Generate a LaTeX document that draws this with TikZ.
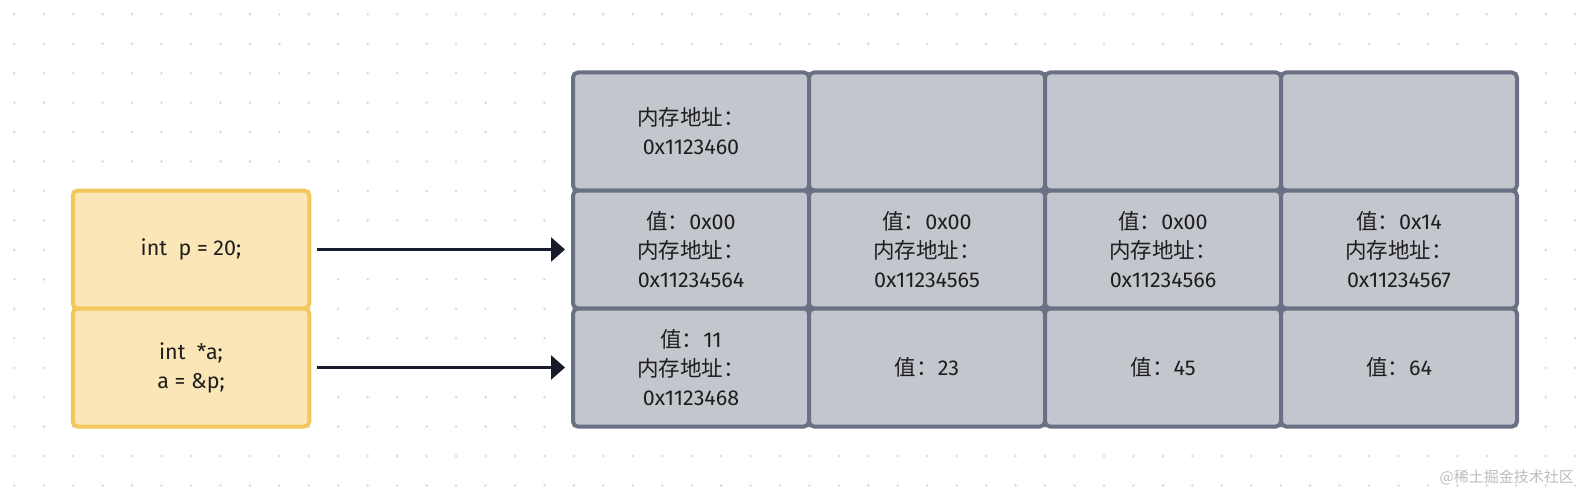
\documentclass[tikz,border=0pt]{standalone}
\usepackage{fontspec}
\setmainfont{Fira Sans}
\newfontfamily\cjk{Noto Sans CJK SC}
\usetikzlibrary{arrows.meta,shadows}
\definecolor{yfill}{HTML}{FAE6B7}
\definecolor{yb}{HTML}{F2C75C}
\definecolor{cellf}{HTML}{C4C6CE}
\definecolor{cellb}{HTML}{6B7184}
\definecolor{arrc}{HTML}{171B2C}
\definecolor{txt}{HTML}{1E1E1E}
\definecolor{dotc}{HTML}{DADADA}
\definecolor{wmc}{HTML}{BDBDBD}
\newcommand\zh[1]{{\cjk #1}}
\tikzset{
  cell/.style={draw=cellb, fill=cellf, line width=4pt, rounded corners=5pt,
    minimum width=236pt, minimum height=118pt, inner sep=0pt, outer sep=0pt,
    align=center, text=txt, font=\fontsize{21.5}{29}\selectfont,
    drop shadow={opacity=0.10, shadow xshift=0pt, shadow yshift=-2pt}},
  ycell/.style={cell, draw=yb, fill=yfill, minimum width=236.5pt},
  arr/.style={draw=arrc, line width=2.7pt, -{Triangle[length=14pt,width=24pt]}},
}
\begin{document}
\begin{tikzpicture}[x=1pt,y=-1pt]
\useasboundingbox (0,0) rectangle (1588,500);
\fill[white] (0,0) rectangle (1588,500);
\foreach \i in {0,...,53}
  \foreach \j in {0,...,16}
    \fill[dotc] (14.3+29.45*\i, 14.3+29.45*\j) circle[radius=1.4pt];

% left code boxes
\node[ycell] (y1) at (191,249.5) {int~~p = 20;};
\node[ycell] (y2) at (191,367.5) {int~~*a;\\a = \&p;};

% memory grid, row 1
\node[cell] (c11) at (691,131.5) {\zh{内存地址：}\\0x1123460};
\node[cell] (c12) at (927,131.5) {};
\node[cell] (c13) at (1163,131.5) {};
\node[cell] (c14) at (1399,131.5) {};
% row 2
\node[cell] (c21) at (691,249.5) {\zh{值：}0x00\\\zh{内存地址：}\\0x11234564};
\node[cell] (c22) at (927,249.5) {\zh{值：}0x00\\\zh{内存地址：}\\0x11234565};
\node[cell] (c23) at (1163,249.5) {\zh{值：}0x00\\\zh{内存地址：}\\0x11234566};
\node[cell] (c24) at (1399,249.5) {\zh{值：}0x14\\\zh{内存地址：}\\0x11234567};
% row 3
\node[cell] (c31) at (691,367.5) {\zh{值：}11\\\zh{内存地址：}\\0x1123468};
\node[cell] (c32) at (927,367.5) {\zh{值：}23};
\node[cell] (c33) at (1163,367.5) {\zh{值：}45};
\node[cell] (c34) at (1399,367.5) {\zh{值：}64};

% arrows
\draw[arr, shorten <=7.75pt, shorten >=8pt] (y1.east) -- (c21.west);
\draw[arr, shorten <=7.75pt, shorten >=8pt] (y2.east) -- (c31.west);

% watermark
\node[font=\cjk\fontsize{15}{15}\selectfont, text=wmc, anchor=east, inner sep=0pt] (wm) at (1574,477) {@稀土掘金技术社区};
\end{tikzpicture}
\end{document}
